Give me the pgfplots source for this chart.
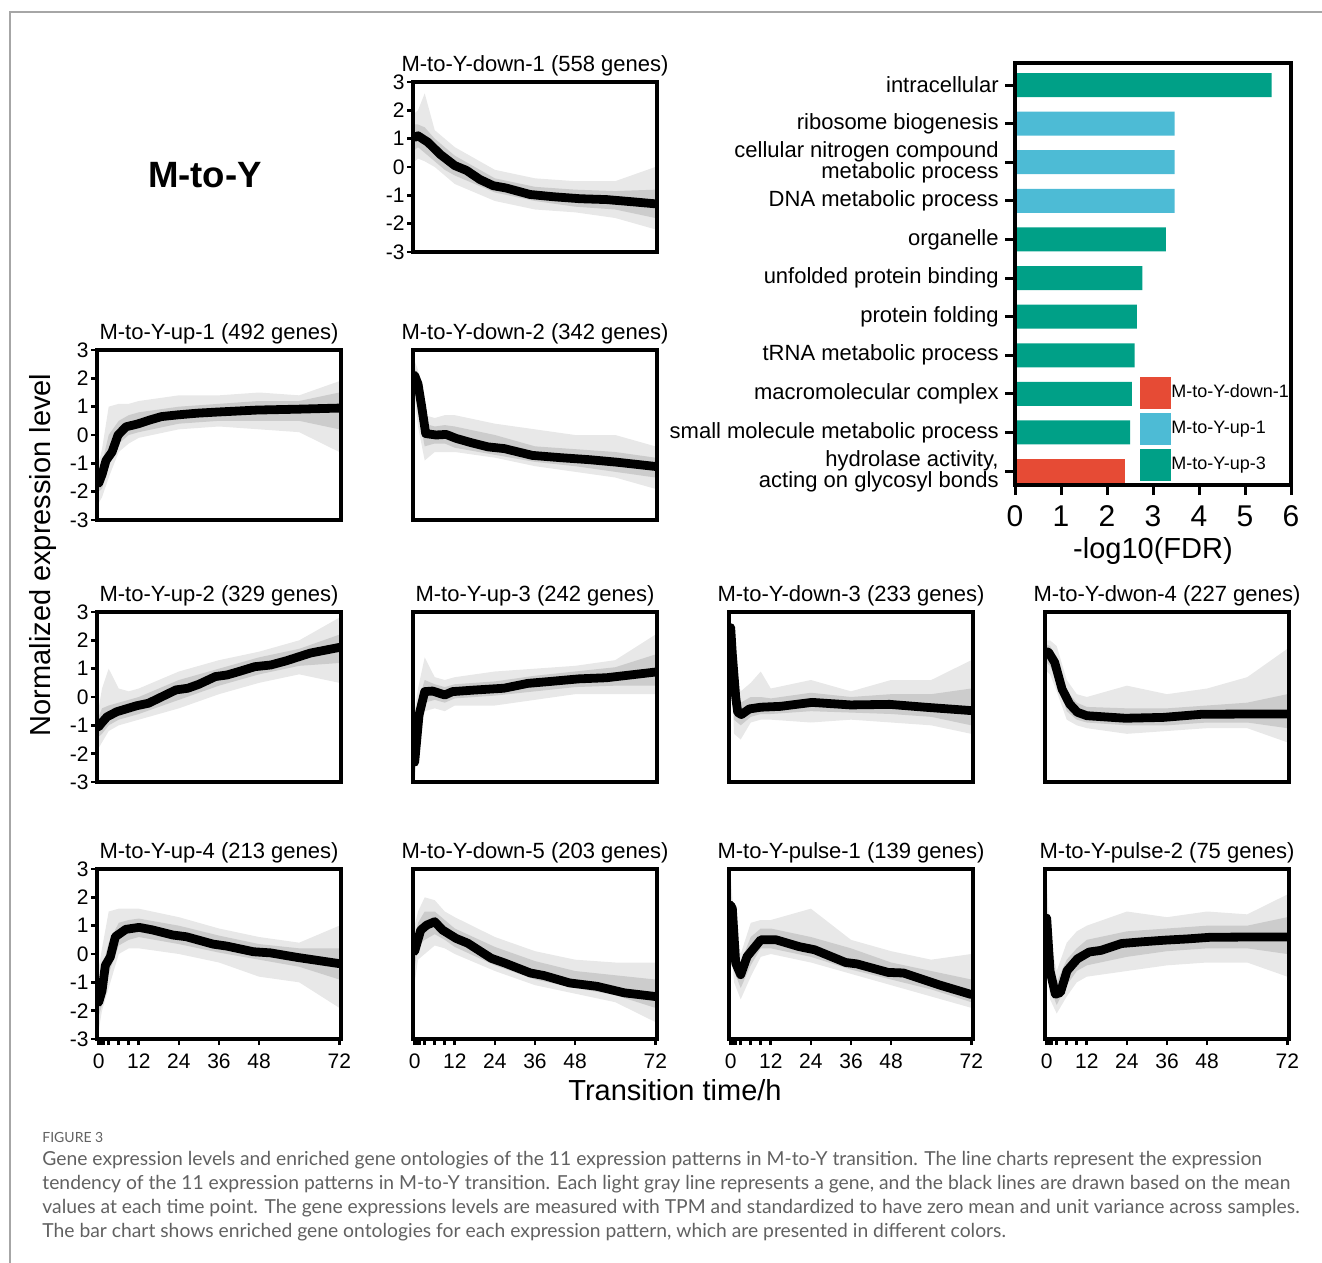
\documentclass[border=0pt]{standalone}
\usepackage{fontspec}
\setmainfont{Liberation Sans}
\newfontfamily\capfont{Lato}
\usepackage{pgfplots}
\usepackage{pgfplotstable}
\usepgfplotslibrary{fillbetween}
\pgfplotsset{compat=1.18}
\definecolor{npgteal}{HTML}{00A087}
\definecolor{npgblue}{HTML}{4DBBD5}
\definecolor{npgred}{HTML}{E64B35}

% ---------- gray gene clouds: t, outer band (hi, lo), dense core (hi2, lo2)
\pgfplotstableread{
t hi lo hi2 lo2
0 1.9 0.2 1.5 0.6
1 2.0 0.3 1.5 0.7
3 2.6 0.2 1.4 0.5
6 1.3 0.0 1.0 0.2
9 1.0 -0.3 0.7 -0.1
12 0.7 -0.6 0.4 -0.3
24 -0.1 -1.2 -0.4 -0.9
36 -0.4 -1.5 -0.7 -1.2
48 -0.5 -1.6 -0.8 -1.4
60 -0.5 -1.8 -0.85 -1.5
72 0.0 -2.2 -0.8 -1.8
}\bandDa
\pgfplotstableread{
t m
0 1.05
1 1.1
4 0.87
7.6 0.45
12 0.05
15.5 -0.12
19.5 -0.44
23.5 -0.66
27.3 -0.74
34.5 -0.97
41.5 -1.05
49.5 -1.12
57.4 -1.15
65.4 -1.23
72 -1.3
}\meanDa

\pgfplotstableread{
t hi lo hi2 lo2
0 -1.0 -2.4 -1.3 -2.0
1 -0.5 -2.2 -1.0 -1.9
3 1.0 -1.5 0.0 -1.1
6 1.1 -0.6 0.5 -0.3
9 1.1 -0.3 0.7 0.0
12 1.2 -0.1 0.8 0.1
24 1.4 0.2 1.0 0.4
36 1.4 0.3 1.1 0.5
48 1.5 0.2 1.2 0.5
60 1.4 0.1 1.2 0.5
72 1.9 -0.6 1.5 0.2
}\bandUa
\pgfplotstableread{
t m
0 -1.7
1 -1.4
2.2 -0.9
4 -0.6
5.8 0.0
8.2 0.29
11.7 0.39
15.3 0.53
18.8 0.65
23.6 0.71
29.5 0.77
35.5 0.81
47.3 0.88
59.2 0.91
72 0.95
}\meanUa

\pgfplotstableread{
t hi lo hi2 lo2
0 2.6 1.3 2.4 1.6
1 2.3 0.3 2.0 0.8
3 0.7 -0.9 0.4 -0.4
6 0.6 -0.6 0.3 -0.3
9 0.7 -0.6 0.35 -0.3
12 0.7 -0.6 0.3 -0.45
24 0.4 -0.8 0.0 -0.7
36 0.2 -1.1 -0.4 -0.95
48 0.0 -1.3 -0.5 -1.1
60 0.0 -1.5 -0.6 -1.3
72 -0.4 -1.9 -0.8 -1.5
}\bandDb
\pgfplotstableread{
t m
0 2.1
1 1.8
2.1 1.0
3.3 0.05
6.4 0.0
9.4 0.02
12.4 -0.12
17.2 -0.28
22 -0.42
26.8 -0.48
35.2 -0.72
43.6 -0.8
52.1 -0.87
60.5 -0.96
72 -1.11
}\meanDb

\pgfplotstableread{
t hi lo hi2 lo2
0 -0.4 -1.8 -0.7 -1.4
1 0.3 -1.6 -0.4 -1.3
3 1.0 -1.2 -0.3 -1.0
6 0.3 -1.0 -0.2 -0.8
9 0.2 -0.9 -0.1 -0.7
12 0.3 -0.8 0.0 -0.6
24 0.9 -0.4 0.6 -0.1
36 1.3 0.1 1.0 0.4
48 1.6 0.5 1.4 0.8
60 2.0 0.8 1.7 1.1
72 2.8 0.5 2.2 1.2
}\bandUb
\pgfplotstableread{
t m
0 -1.05
1 -0.9
2.5 -0.7
5.4 -0.52
11.3 -0.31
14.9 -0.22
18.4 -0.02
23.1 0.25
26.7 0.31
30 0.45
34.9 0.72
38.5 0.78
42 0.9
46.7 1.07
51.5 1.13
56.2 1.28
63.3 1.55
72 1.75
}\meanUb

\pgfplotstableread{
t hi lo hi2 lo2
0 -0.5 -3.0 -1.6 -2.8
1 0.3 -1.6 -0.2 -1.1
3 1.4 -0.5 0.6 -0.2
6 0.7 -0.4 0.45 -0.1
9 0.6 -0.5 0.35 -0.2
12 0.7 -0.3 0.45 -0.05
24 0.9 -0.3 0.55 0.05
36 1.0 -0.1 0.75 0.2
48 1.1 0.1 0.9 0.35
60 1.3 0.1 1.05 0.4
72 2.2 0.1 1.5 0.4
}\bandUc
\pgfplotstableread{
t m
0 -2.3
1.3 -0.64
3 0.19
5.4 0.21
9 0.07
11.3 0.19
17.2 0.24
26.7 0.31
33.8 0.48
39.7 0.54
49.1 0.64
57.4 0.68
72 0.88
}\meanUc

\pgfplotstableread{
t hi lo hi2 lo2
0 2.8 1.8 2.6 2.1
1 1.0 -1.3 0.3 -0.8
3 0.2 -1.5 -0.2 -1.0
6 0.5 -0.9 0.0 -0.7
9 0.9 -0.8 0.0 -0.6
12 0.3 -0.8 -0.05 -0.6
24 0.6 -0.9 0.15 -0.5
36 0.2 -0.8 0.0 -0.55
48 0.6 -0.9 0.1 -0.6
60 0.6 -1.0 0.1 -0.7
72 1.3 -1.3 0.3 -1.0
}\bandDc
\pgfplotstableread{
t m
0 2.45
0.5 1.5
1.5 0.0
2.1 -0.54
3.2 -0.62
5.6 -0.42
9.1 -0.36
14.9 -0.33
24.3 -0.19
35.9 -0.28
47.6 -0.26
58.1 -0.36
72 -0.48
}\meanDc

\pgfplotstableread{
t hi lo hi2 lo2
0 2.0 0.9 1.85 1.2
1 2.0 0.8 1.8 1.1
3 1.8 0.2 1.4 0.6
6 0.6 -0.8 0.2 -0.5
9 0.1 -1.0 -0.2 -0.8
12 0.0 -1.1 -0.35 -0.9
24 0.4 -1.3 -0.4 -1.0
36 0.1 -1.2 -0.4 -1.0
48 0.3 -1.1 -0.3 -0.9
60 0.7 -1.1 -0.2 -0.9
72 1.7 -1.6 0.1 -1.1
}\bandDd
\pgfplotstableread{
t m
0 1.6
0.6 1.57
2.4 1.22
4.6 0.28
6.9 -0.25
9.2 -0.54
12 -0.66
23.5 -0.75
34.9 -0.72
46.3 -0.61
61.1 -0.6
72 -0.6
}\meanDd

\pgfplotstableread{
t hi lo hi2 lo2
0 -0.5 -2.7 -1.2 -2.2
1 0.2 -2.0 -0.5 -1.8
3 1.5 -1.2 0.4 -0.7
6 1.6 0.0 1.1 0.3
9 1.6 0.2 1.2 0.5
12 1.6 0.2 1.25 0.6
24 1.3 0.0 1.0 0.35
36 0.9 -0.3 0.65 0.05
48 0.6 -0.8 0.35 -0.2
60 0.4 -1.0 0.2 -0.45
72 1.0 -1.9 0.2 -0.9
}\bandUd
\pgfplotstableread{
t m
0 -1.7
1 -1.3
2 -0.4
3.5 -0.1
5 0.61
8.1 0.87
12.1 0.94
16.1 0.85
22.2 0.67
26.2 0.61
34.2 0.35
38.3 0.28
46.3 0.08
51.4 0.04
59.4 -0.12
72 -0.34
}\meanUd

\pgfplotstableread{
t hi lo hi2 lo2
0 1.0 -1.0 0.6 -0.5
1 1.5 -0.2 1.1 0.3
3 2.0 0.0 1.5 0.5
6 1.9 0.3 1.5 0.7
9 1.5 0.2 1.2 0.5
12 1.3 0.0 0.9 0.25
24 0.6 -0.6 0.25 -0.4
36 0.1 -1.1 -0.25 -0.9
48 -0.2 -1.4 -0.6 -1.2
60 -0.3 -1.7 -0.75 -1.45
72 -0.3 -2.4 -0.9 -1.9
}\bandDe
\pgfplotstableread{
t m
0 0.1
1.8 0.84
3.6 1.02
6 1.14
8.3 0.85
12.4 0.55
15.9 0.38
22.9 -0.15
27 -0.32
34.6 -0.67
38.7 -0.76
46.3 -1.02
54.5 -1.14
62.7 -1.37
72 -1.5
}\meanDe

\pgfplotstableread{
t hi lo hi2 lo2
0 2.8 0.5 2.3 1.2
1 1.2 -1.0 0.6 -0.6
3 0.0 -1.6 -0.3 -1.2
6 1.1 -0.8 0.6 -0.4
9 1.2 -0.1 0.9 0.2
12 1.2 0.0 0.9 0.2
24 1.6 -0.3 0.6 -0.1
36 0.5 -0.7 0.2 -0.55
48 0.1 -1.1 -0.3 -0.9
60 -0.2 -1.5 -0.6 -1.25
72 0.0 -1.9 -0.9 -1.7
}\bandPa
\pgfplotstableread{
t m
0 1.72
0.5 1.6
1.5 -0.32
3 -0.73
4.9 -0.09
9 0.5
13.6 0.5
20.5 0.26
25.1 0.15
34.4 -0.3
37.8 -0.35
47.1 -0.65
51.7 -0.67
62.1 -1.08
72 -1.43
}\meanPa

\pgfplotstableread{
t hi lo hi2 lo2
0 2.6 0.2 1.8 0.8
1 0.6 -1.6 0.0 -1.2
3 -0.6 -2.1 -1.0 -1.8
6 0.4 -1.5 -0.2 -1.1
9 0.8 -1.0 0.2 -0.6
12 1.0 -0.8 0.5 -0.4
24 1.5 -0.6 0.8 -0.1
36 1.3 -0.4 0.9 0.1
48 1.5 -0.3 1.0 0.2
60 1.4 -0.3 1.0 0.2
72 2.1 -0.8 1.3 0.0
}\bandPb
\pgfplotstableread{
t m
0 1.27
1 -0.59
2.6 -1.42
4.1 -1.36
6.1 -0.59
9.2 -0.17
12.7 0.07
16.3 0.13
22.4 0.37
28.5 0.43
35.6 0.49
41.8 0.53
48.9 0.59
61.1 0.6
72 0.6
}\meanPb

\newcommand{\cluster}[2]{%
  \addplot[name path=H, draw=none] table[x=t,y=hi]{#1};
  \addplot[name path=L, draw=none] table[x=t,y=lo]{#1};
  \addplot[gray!18, draw=none] fill between[of=H and L];
  \addplot[name path=HH, draw=none] table[x=t,y=hi2]{#1};
  \addplot[name path=LL, draw=none] table[x=t,y=lo2]{#1};
  \addplot[gray!40, draw=none] fill between[of=HH and LL];
  \addplot[black, line width=4.4pt, line join=round, line cap=round] table[x=t,y=m]{#2};
}

\pgfplotsset{
  panel/.style={anchor=north west, width=122pt, height=85pt, scale only axis,
    xmin=-0.5, xmax=72.5, ymin=-3, ymax=3, axis on top,
    axis line style={line width=2pt, black},
    xtick=\empty, ytick=\empty, tick pos=left, tick align=outside,
    major tick length=3pt, tick style={line width=1.3pt, black},
    ticklabel style={font=\fontsize{10.5}{10.5}\selectfont},
    title style={font=\fontsize{11}{11}\selectfont, at={(0.5,1)}, anchor=south, yshift=-4pt, inner sep=1pt}},
  ylab/.style={ytick={-3,-2,-1,0,1,2,3}, yticklabels={-3,-2,-1,0,1,2,3}, yticklabel style={inner sep=1pt}},
  xlab/.style={xtick={0,0.5,1,1.5,3,6,9,12,24,36,48,72}, xticklabels={0,,,,,,,12,24,36,48,72}, xticklabel style={inner sep=2pt, yshift=-2pt}},
}

\begin{document}
\begin{tikzpicture}
\draw[black!35, line width=0.8pt] (5pt,-631.5pt) -- (5pt,-6pt) -- (661pt,-6pt);

\node[font=\bfseries\fontsize{18.3}{18.3}\selectfont] at (102.5pt,-87.5pt) {M-to-Y};

\begin{axis}[panel, ylab, at={(206.5pt,-41pt)}, title={M-to-Y-down-1 (558 genes)}]
\cluster{\bandDa}{\meanDa}
\end{axis}

\begin{axis}[panel, ylab, at={(48.5pt,-175pt)}, title={M-to-Y-up-1 (492 genes)}]
\cluster{\bandUa}{\meanUa}
\end{axis}
\begin{axis}[panel, at={(206.5pt,-175pt)}, title={M-to-Y-down-2 (342 genes)}]
\cluster{\bandDb}{\meanDb}
\end{axis}

\begin{axis}[panel, ylab, at={(48.5pt,-306pt)}, title={M-to-Y-up-2 (329 genes)}]
\cluster{\bandUb}{\meanUb}
\end{axis}
\begin{axis}[panel, at={(206.5pt,-306pt)}, title={M-to-Y-up-3 (242 genes)}]
\cluster{\bandUc}{\meanUc}
\end{axis}
\begin{axis}[panel, at={(364.5pt,-306pt)}, title={M-to-Y-down-3 (233 genes)}]
\cluster{\bandDc}{\meanDc}
\end{axis}
\begin{axis}[panel, at={(522.5pt,-306pt)}, title={M-to-Y-dwon-4 (227 genes)}]
\cluster{\bandDd}{\meanDd}
\end{axis}

\begin{axis}[panel, ylab, xlab, at={(48.5pt,-434.5pt)}, title={M-to-Y-up-4 (213 genes)}]
\cluster{\bandUd}{\meanUd}
\end{axis}
\begin{axis}[panel, xlab, at={(206.5pt,-434.5pt)}, title={M-to-Y-down-5 (203 genes)}]
\cluster{\bandDe}{\meanDe}
\end{axis}
\begin{axis}[panel, xlab, at={(364.5pt,-434.5pt)}, title={M-to-Y-pulse-1 (139 genes)}]
\cluster{\bandPa}{\meanPa}
\end{axis}
\begin{axis}[panel, xlab, at={(522.5pt,-434.5pt)}, title={M-to-Y-pulse-2 (75 genes)}]
\cluster{\bandPb}{\meanPb}
\end{axis}

\node[rotate=90, font=\fontsize{14.5}{14.5}\selectfont] at (21.5pt,-277.5pt) {Normalized expression level};
\node[font=\fontsize{14.5}{14.5}\selectfont] at (337.5pt,-545pt) {Transition time/h};

% ---------- GO enrichment bar chart
\begin{axis}[at={(507.5pt,-31.5pt)}, anchor=north west, width=138pt, height=211pt, scale only axis,
  xbar, bar width=12pt, xmin=0, xmax=6, ymin=0.43, ymax=11.36, y dir=reverse, axis on top,
  axis line style={line width=2pt, black}, tick pos=left, tick align=outside,
  major tick length=5pt, tick style={line width=1.5pt, black},
  xtick={0,1,2,3,4,5,6}, xticklabels={0,1,2,3,4,5,6},
  xticklabel style={font=\fontsize{15}{15}\selectfont, inner sep=2pt, yshift=-3pt},
  ytick={1,2,3,4,5,6,7,8,9,10,11},
  yticklabels={intracellular, ribosome biogenesis, {cellular nitrogen compound\\[-0.8pt]metabolic process}, DNA metabolic process, organelle, unfolded protein binding, protein folding, tRNA metabolic process, macromolecular complex, small molecule metabolic process, {hydrolase activity,\\[-0.8pt]acting on glycosyl bonds}},
  yticklabel style={font=\fontsize{11}{9.5}\selectfont, align=right, inner sep=2pt, xshift=-1pt},
  xlabel={-log10(FDR)},
  xlabel style={font=\fontsize{14.5}{14.5}\selectfont, at={(0.5,0)}, anchor=center, yshift=-33pt},
  legend image code/.code={\fill[#1] (0pt,-8pt) rectangle (15.5pt,8pt);},
  legend style={at={(0.45,0.258)}, anchor=north west, draw=none, fill=none, inner sep=0pt,
    row sep=2pt, column sep=0pt, cells={anchor=west},
    font=\fontsize{9}{9}\selectfont, nodes={inner sep=0.4pt}},
  legend cell align=left]
\addplot[fill=npgred, draw=none, bar shift=0pt] coordinates {(2.40,11)};
\addplot[fill=npgblue, draw=none, bar shift=0pt] coordinates {(3.47,2) (3.47,3) (3.47,4)};
\addplot[fill=npgteal, draw=none, bar shift=0pt] coordinates {(5.58,1) (3.28,5) (2.77,6) (2.65,7) (2.60,8) (2.54,9) (2.50,10)};
\legend{M-to-Y-down-1, M-to-Y-up-1, M-to-Y-up-3}
\end{axis}

% ---------- caption
\begin{scope}[every node/.style={anchor=west, inner sep=0pt, text=black!62}]
\node[font=\capfont\fontsize{7}{7}\selectfont] at (21pt,-568.5pt) {FIGURE 3};
\node[font=\capfont\fontsize{9.65}{9.65}\selectfont] at (21pt,-580pt) {Gene expression levels and enriched gene ontologies of the 11 expression patterns in M-to-Y transition. The line charts represent the expression};
\node[font=\capfont\fontsize{9.65}{9.65}\selectfont] at (21pt,-592pt) {tendency of the 11 expression patterns in M-to-Y transition. Each light gray line represents a gene, and the black lines are drawn based on the mean};
\node[font=\capfont\fontsize{9.65}{9.65}\selectfont] at (21pt,-604pt) {values at each time point. The gene expressions levels are measured with TPM and standardized to have zero mean and unit variance across samples.};
\node[font=\capfont\fontsize{9.65}{9.65}\selectfont] at (21pt,-616pt) {The bar chart shows enriched gene ontologies for each expression pattern, which are presented in different colors.};
\end{scope}
\pgfresetboundingbox
\useasboundingbox (0,0) rectangle (661pt,-631.5pt);
\end{tikzpicture}
\end{document}
